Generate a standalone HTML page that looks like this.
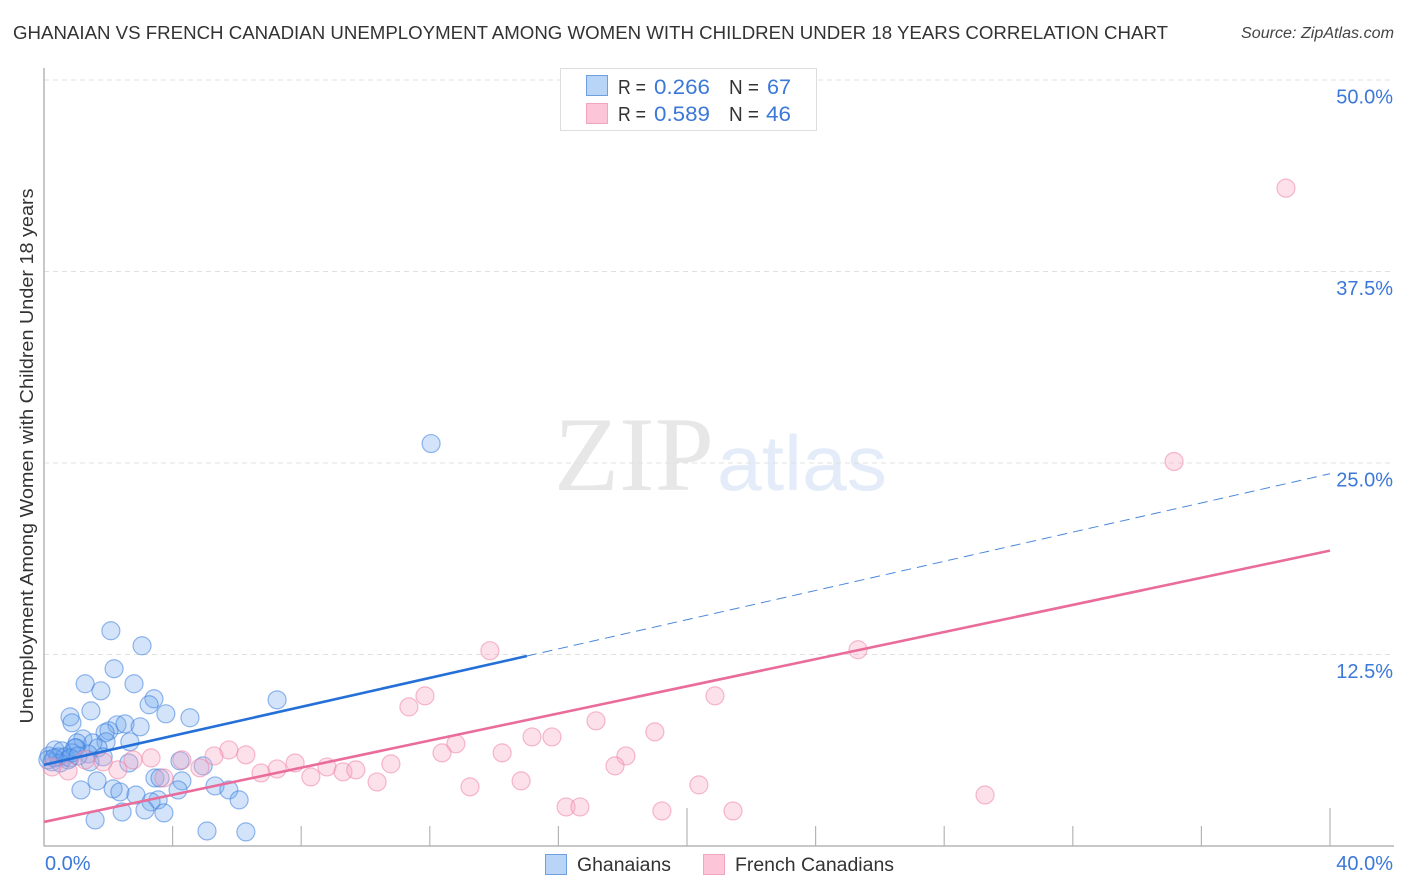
<!DOCTYPE html>
<html lang="en">
<head>
<meta charset="utf-8">
<title>Ghanaian vs French Canadian Unemployment Correlation Chart</title>
<style>
html,body{margin:0;padding:0;background:#fff;}
svg{display:block;}
text{font-family:"Liberation Sans",sans-serif;}
</style>
</head>
<body>
<svg id="chart" width="1406" height="892" viewBox="0 0 1406 892" xmlns="http://www.w3.org/2000/svg">
  <text x="13" y="39" font-size="18.5" fill="#333" textLength="1155" lengthAdjust="spacingAndGlyphs">GHANAIAN VS FRENCH CANADIAN UNEMPLOYMENT AMONG WOMEN WITH CHILDREN UNDER 18 YEARS CORRELATION CHART</text>
  <text x="1241" y="38" font-size="15.5" font-style="italic" fill="#444" textLength="153" lengthAdjust="spacingAndGlyphs">Source: ZipAtlas.com</text>
  <g>
    <text x="554" y="490" style="font-family:'Liberation Serif',serif" font-size="106" fill="#e7e7e7" textLength="160" lengthAdjust="spacingAndGlyphs">ZIP</text>
    <text x="717" y="490" font-size="78" fill="#e3ecf8" textLength="170" lengthAdjust="spacingAndGlyphs">atlas</text>
  </g>
  <g id="grid"></g>
  <g id="axes"></g>
  <g id="blue-points"></g>
  <g id="pink-points"></g>
  <g id="trends"></g>
  <g id="labels"></g>
  <text transform="translate(33,456) rotate(-90)" font-size="18.5" fill="#333" text-anchor="middle" textLength="535" lengthAdjust="spacingAndGlyphs">Unemployment Among Women with Children Under 18 years</text>

  <g>
    <rect x="560.5" y="68.5" width="256" height="62" fill="#fff" stroke="#ddd" stroke-width="1"/>
    <rect x="586.5" y="75.5" width="21" height="20" fill="#b8d4f7" stroke="#6ea0e0" stroke-width="1"/>
    <rect x="586.5" y="103.5" width="21" height="20" fill="#fcc6d8" stroke="#f2a6be" stroke-width="1"/>
    <text x="618" y="94" font-size="20" fill="#333" textLength="28" lengthAdjust="spacingAndGlyphs">R =</text>
    <text x="654" y="94" font-size="21" fill="#3b78d8" textLength="56" lengthAdjust="spacingAndGlyphs">0.266</text>
    <text x="729" y="94" font-size="20" fill="#333" textLength="30" lengthAdjust="spacingAndGlyphs">N =</text>
    <text x="767" y="94" font-size="21" fill="#3b78d8" textLength="24" lengthAdjust="spacingAndGlyphs">67</text>
    <text x="618" y="121" font-size="20" fill="#333" textLength="28" lengthAdjust="spacingAndGlyphs">R =</text>
    <text x="654" y="121" font-size="21" fill="#3b78d8" textLength="56" lengthAdjust="spacingAndGlyphs">0.589</text>
    <text x="729" y="121" font-size="20" fill="#333" textLength="30" lengthAdjust="spacingAndGlyphs">N =</text>
    <text x="766" y="121" font-size="21" fill="#3b78d8" textLength="25" lengthAdjust="spacingAndGlyphs">46</text>
  </g>

  <g>
    <g>
      <rect x="545.5" y="854.5" width="21" height="20" fill="#b8d4f7" stroke="#6ea0e0" stroke-width="1"/>
      <text x="577" y="871" font-size="19" fill="#333" textLength="94" lengthAdjust="spacingAndGlyphs">Ghanaians</text>
    </g>
    <g>
      <rect x="703.5" y="854.5" width="21" height="20" fill="#fcc6d8" stroke="#f2a6be" stroke-width="1"/>
      <text x="735" y="871" font-size="19" fill="#333" textLength="159" lengthAdjust="spacingAndGlyphs">French Canadians</text>
    </g>
  </g>
</svg>
<script>
const yTickValues = [12.5, 25, 37.5, 50];
const yTickLabels = ["12.5%", "25.0%", "37.5%", "50.0%"];
const xTickValues = [4, 8, 12, 16, 20, 24, 28, 32, 36, 40];
const xEndValues = [0, 40];
const xEndLabels = ["0.0%", "40.0%"];

const ghanaianX = [2.08,3.05,2.18,1.28,2.80,1.77,3.42,3.27,1.46,7.25,0.81,0.87,3.79,4.54,2.27,2.52,2.99,2.02,1.90,1.93,1.21,1.03,2.67,1.52,1.68,1.00,1.37,1.84,1.43,2.64,4.23,4.95,3.45,3.61,4.29,4.17,1.65,1.15,2.15,2.36,2.86,3.55,3.33,5.32,5.75,6.07,3.14,3.73,2.43,1.59,5.07,6.28,12.04,0.16,0.25,0.34,0.44,0.56,0.65,0.75,0.87,0.96,0.50,0.12,0.81,0.31,1.06];
const ghanaianY = [14.05,13.07,11.57,10.59,10.59,10.13,9.61,9.22,8.82,9.54,8.43,8.04,8.63,8.37,7.91,7.97,7.78,7.52,7.39,6.80,6.99,6.73,6.80,6.73,6.41,6.41,6.01,5.82,5.49,5.42,5.56,5.23,4.44,4.44,4.25,3.66,4.25,3.66,3.73,3.53,3.33,3.01,2.88,3.92,3.66,3.01,2.35,2.16,2.22,1.70,0.98,0.92,26.27,5.88,5.49,6.27,5.82,6.21,5.82,5.62,6.08,6.41,5.42,5.62,5.75,5.75,5.88];

const frenchX = [38.63,35.15,25.32,13.87,11.85,11.35,20.87,17.17,19.00,15.18,15.80,12.81,12.38,14.25,18.10,17.76,5.75,6.28,5.29,4.29,3.33,2.77,1.84,2.30,3.73,4.85,6.75,7.25,7.81,8.30,8.80,9.30,9.70,10.36,10.79,13.25,14.84,16.24,16.67,19.22,20.37,21.43,29.27,0.75,0.25,1.28];
const frenchY = [42.94,25.10,12.81,12.75,9.80,9.08,9.80,8.17,7.45,7.12,7.12,6.67,6.08,6.08,5.88,5.23,6.27,5.95,5.88,5.62,5.75,5.62,5.49,4.97,4.44,5.10,4.77,5.03,5.42,4.51,5.16,4.84,4.97,4.18,5.36,3.86,4.25,2.55,2.55,2.29,3.99,2.29,3.33,4.90,5.16,5.62];

const ghanaianTrendX = [0, 15.02, 40];
const ghanaianTrendY = [5.3, 12.4, 24.3];
const frenchTrendX = [0, 40];
const frenchTrendY = [1.57, 19.28];

const NS = "http://www.w3.org/2000/svg";
function xScale(v) { return 44 + v * 32.15; }
function yScale(v) { return 846 - v * 15.32; }
function make(tag, attrs, parent) {
  const el = document.createElementNS(NS, tag);
  for (const k in attrs) el.setAttribute(k, attrs[k]);
  parent.appendChild(el);
  return el;
}

const grid = document.getElementById("grid");
yTickValues.forEach(function (v) {
  const line = make("line", {x1: 44, x2: 1394, y1: yScale(v), y2: yScale(v), stroke: "#e0e0e0", "stroke-width": 1, "stroke-dasharray": "5 4"}, grid);
  
  
});

const axes = document.getElementById("axes");
const yAxisLine = make("line", {x1: 44, x2: 44, y1: 68, y2: 846.5, stroke: "#b5b5b5", "stroke-width": 1.5}, axes);


const xAxisLine = make("line", {x1: 44, x2: 1394, y1: 846, y2: 846, stroke: "#b5b5b5", "stroke-width": 1.5}, axes);


xTickValues.forEach(function (v) {
  const top = v % 20 === 0 ? 808 : 826;
  const tick = make("line", {x1: xScale(v), x2: xScale(v), y1: top, y2: 846, stroke: "#b5b5b5", "stroke-width": 1.2}, axes);
  
  
});

function drawPoints(groupId, xs, ys, fill, stroke, name) {
  const g = document.getElementById(groupId);
  xs.forEach(function (x, i) {
    const c = make("circle", {cx: xScale(x), cy: yScale(ys[i]), r: 9, fill: fill, stroke: stroke, "stroke-width": 1.2}, g);
    
    
  });
}
drawPoints("blue-points", ghanaianX, ghanaianY, "rgba(110,165,240,0.3)", "rgba(60,125,220,0.55)", "ghanaians-point");
drawPoints("pink-points", frenchX, frenchY, "rgba(250,170,195,0.35)", "rgba(238,130,165,0.55)", "french-canadians-point");

const trends = document.getElementById("trends");
const blueSolid = make("line", {x1: xScale(ghanaianTrendX[0]), y1: yScale(ghanaianTrendY[0]), x2: xScale(ghanaianTrendX[1]), y2: yScale(ghanaianTrendY[1]), stroke: "#2570d8", "stroke-width": 2.6}, trends);


const blueDashed = make("line", {x1: xScale(ghanaianTrendX[1]), y1: yScale(ghanaianTrendY[1]), x2: xScale(ghanaianTrendX[2]), y2: yScale(ghanaianTrendY[2]), stroke: "#4a86dc", "stroke-width": 1, "stroke-dasharray": "10 6"}, trends);


const pinkLine = make("line", {x1: xScale(frenchTrendX[0]), y1: yScale(frenchTrendY[0]), x2: xScale(frenchTrendX[1]), y2: yScale(frenchTrendY[1]), stroke: "#e96c9b", "stroke-width": 2.6}, trends);



const labels = document.getElementById("labels");
yTickValues.forEach(function (v, i) {
  const t = make("text", {x: 1393, y: yScale(v) + 23.5, "font-size": 20, fill: "#3b78d8", "text-anchor": "end"}, labels);
  t.textContent = yTickLabels[i];
  
  
});
xEndValues.forEach(function (v, i) {
  const t = make("text", {x: i === 0 ? xScale(v) + 1 : 1393, y: 870, "font-size": 20, fill: "#3b78d8", "text-anchor": i === 0 ? "start" : "end"}, labels);
  t.textContent = xEndLabels[i];
  
  
});
</script>
</body>
</html>
